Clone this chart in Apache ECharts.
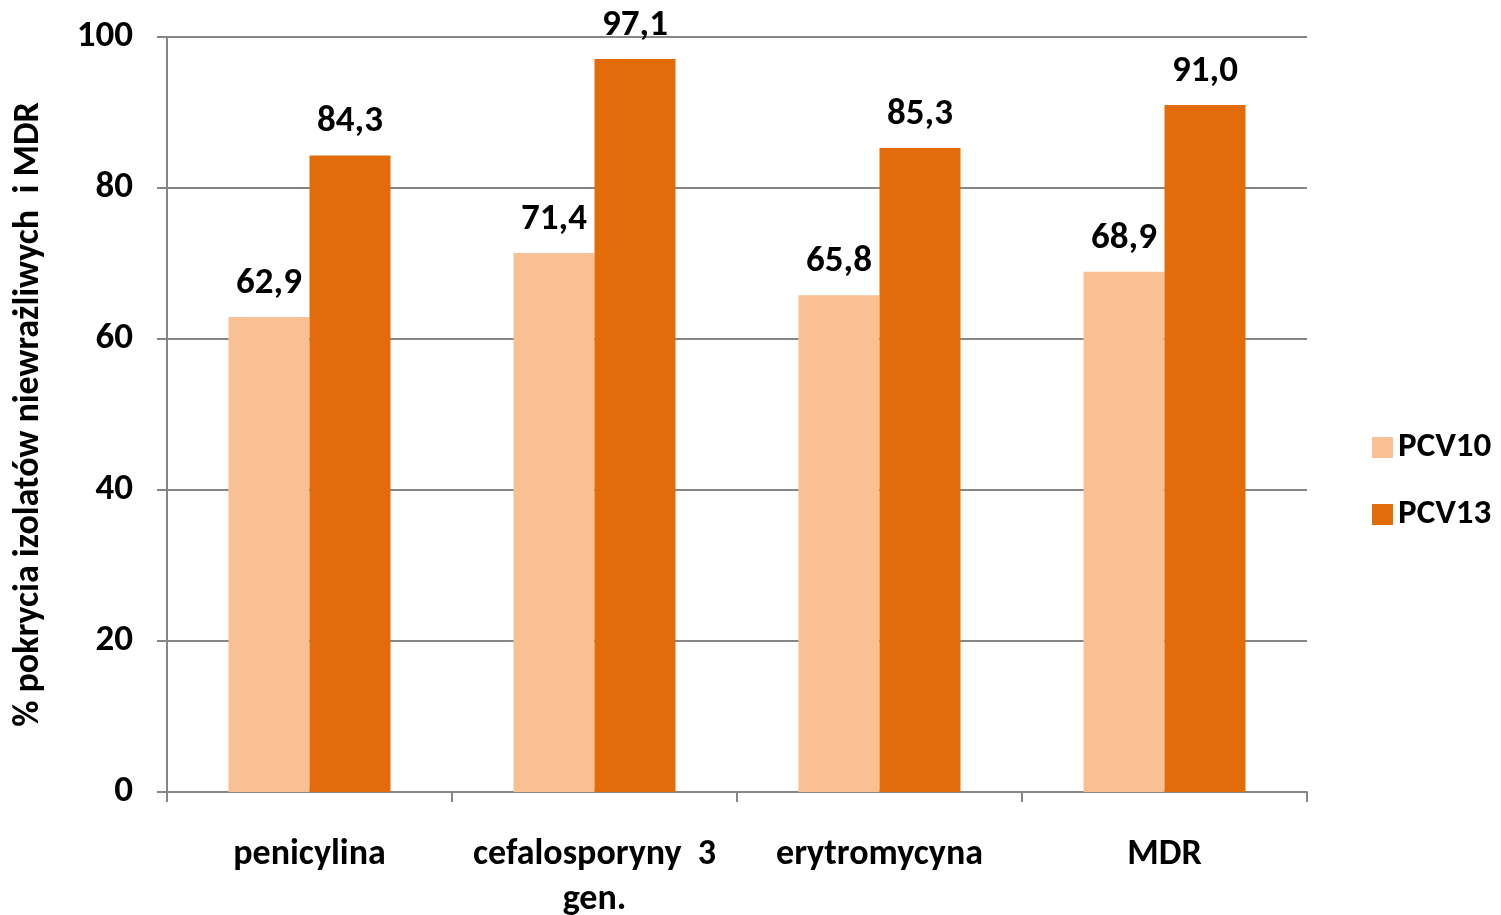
<!DOCTYPE html>
<html>
<head>
<meta charset="utf-8">
<script src="https://cdn.jsdelivr.net/npm/echarts@6/dist/echarts.min.js"></script>
<style>
  html, body { margin: 0; padding: 0; background: #fff; }
  #chart { width: 1501px; height: 915px; }
</style>
</head>
<body>
<div id="chart"></div>
<script>
const categories = ['penicylina', 'cefalosporyny  3\ngen.', 'erytromycyna', 'MDR']
const pcv10 = [62.9, 71.4, 65.8, 68.9]
const pcv13 = [84.3, 97.1, 85.3, 91.0]
const yTicks = { min: 0, max: 100, interval: 20 }

const font = 'Carlito, Lato, "Open Sans", sans-serif'
const fmt = p => p.value.toFixed(1).replace('.', ',')

const chart = echarts.init(document.getElementById('chart'))
chart.setOption({
  animation: false,
  textStyle: { fontFamily: font },
  color: ['#F9C193', '#E36C0A'],
  grid: {
    left: 167,
    right: 194,
    top: 37,
    bottom: 123,
    outerBoundsMode: 'none',
    containLabel: false
  },
  legend: {
    orient: 'vertical',
    left: 1367,
    top: 425,
    itemWidth: 21,
    itemHeight: 21,
    itemGap: 32,
    icon: 'rect',
    textStyle: {
      color: '#000',
      fontSize: 35,
      fontWeight: 'bold',
      fontFamily: font
    },
    data: ['PCV10', 'PCV13']
  },
  xAxis: {
    type: 'category',
    data: categories,
    axisLine: { lineStyle: { color: '#868686', width: 2 } },
    axisTick: { show: true, length: 10, lineStyle: { color: '#868686', width: 2 } },
    axisLabel: {
      color: '#000',
      fontSize: 36,
      fontWeight: 'bold',
      fontFamily: font,
      margin: 40,
      lineHeight: 45,
      interval: 0
    }
  },
  yAxis: {
    type: 'value',
    min: yTicks.min,
    max: yTicks.max,
    interval: yTicks.interval,
    name: '% pokrycia izolatów niewrażliwych  i MDR',
    nameLocation: 'middle',
    nameGap: 120,
    nameRotate: 90,
    nameTextStyle: {
      color: '#000',
      fontSize: 36,
      fontWeight: 'bold',
      fontFamily: font
    },
    axisLine: { show: true, lineStyle: { color: '#868686', width: 2 } },
    axisTick: { show: true, length: 10, lineStyle: { color: '#868686', width: 2 } },
    splitLine: { lineStyle: { color: '#868686', width: 2 } },
    axisLabel: {
      color: '#000',
      fontSize: 37,
      fontWeight: 'bold',
      fontFamily: font,
      margin: 34
    }
  },
  series: [
    {
      name: 'PCV10',
      type: 'bar',
      data: pcv10,
      barWidth: 81,
      barGap: '0%',
      label: {
        show: true,
        position: 'top',
        distance: 15,
        formatter: fmt,
        color: '#000',
        fontSize: 37,
        fontWeight: 'bold',
        fontFamily: font
      }
    },
    {
      name: 'PCV13',
      type: 'bar',
      data: pcv13,
      barWidth: 81,
      barGap: '0%',
      label: {
        show: true,
        position: 'top',
        distance: 15,
        formatter: fmt,
        color: '#000',
        fontSize: 37,
        fontWeight: 'bold',
        fontFamily: font
      }
    }
  ]
})
</script>
</body>
</html>
